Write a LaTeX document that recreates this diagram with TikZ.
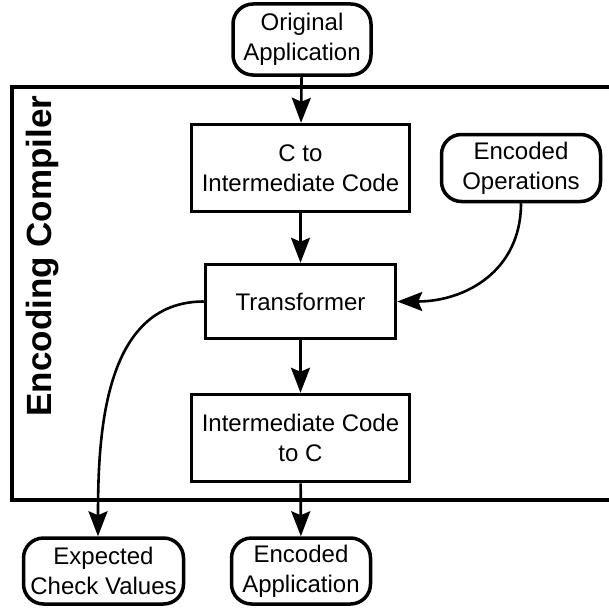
\documentclass[tikz,border=0pt]{standalone}
\usepackage{fontspec}
\setmainfont{Liberation Sans}
\usetikzlibrary{arrows.meta}
\begin{document}
\begin{tikzpicture}[x=1pt,y=-1pt,
  box/.style={draw, line width=3.5pt, align=center, font=\fontsize{24}{30}\selectfont, inner sep=0pt},
  rbox/.style={box, rounded corners=20pt},
  conn/.style={line width=2.6pt, -{Stealth[length=25pt,width=19pt,inset=4pt]}}]
\useasboundingbox (0,0) rectangle (609,610);
\clip (0,0) rectangle (609,610);
\draw[line width=3.7pt] (12,87) rectangle (640,500);
\node[rotate=90, font=\bfseries\fontsize{35}{40}\selectfont] (title) at (43,256) {Encoding Compiler};
\node[rbox, minimum width=138pt, minimum height=71pt] (orig) at (302,39.5) {Original\\Application};
\node[box, minimum width=218pt, minimum height=87pt] (ctoi) at (300.5,168) {C to\\Intermediate Code};
\node[rbox, minimum width=159pt, minimum height=67pt] (eo) at (521,168) {Encoded\\Operations};
\node[box, minimum width=190pt, minimum height=74pt] (tr) at (300.5,301.5) {Transformer};
\node[box, minimum width=218pt, minimum height=87pt] (itoc) at (300.5,438) {Intermediate Code\\to C};
\node[rbox, minimum width=139pt, minimum height=66pt] (eapp) at (301,571) {Encoded\\Application};
\node[rbox, minimum width=160pt, minimum height=66pt] (ecv) at (103.5,571) {Expected\\Check Values};
\draw[conn] (orig) -- (ctoi);
\draw[conn] (ctoi) -- (tr);
\draw[conn] (tr) -- (itoc);
\draw[conn] (itoc) -- (eapp);
\draw[conn] (eo.south) to[out=-90,in=0,looseness=1.1] (tr.east);
\draw[conn] (tr.west) to[out=180,in=90] (ecv.north west -| 98,0);
\end{tikzpicture}
\end{document}
